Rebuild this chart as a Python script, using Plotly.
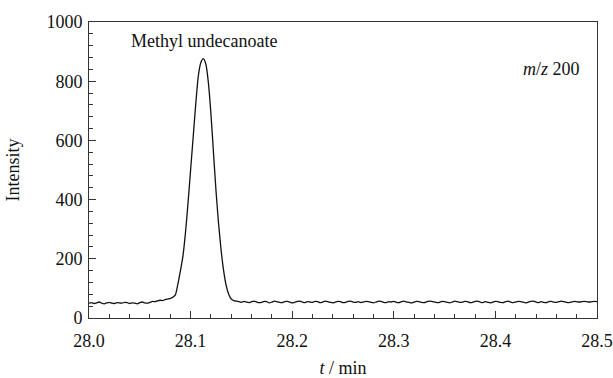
import numpy as np
import plotly.graph_objects as go

t_start = 28.0
t_step = 0.0025

pre_peak = [50, 52, 49, 51, 54, 50, 48, 51, 53, 50, 49, 52, 51, 50, 53, 52, 49,
            51, 50, 48, 52, 54, 51, 50, 53, 56, 55, 58, 60, 59, 62, 64, 66]
peak = [70, 78, 115, 160, 210, 290, 390, 500, 610, 720, 815, 862, 876, 858, 795,
        690, 560, 430, 320, 230, 160, 110, 80, 64, 59, 57]
post_peak = [55, 53, 56, 54, 52, 55, 57, 54, 52, 53, 56, 55, 51, 54, 57, 55, 53,
             52, 55, 56, 54, 51, 53, 56, 57, 54, 52, 55, 54, 53, 56, 55, 52, 54,
             57, 55, 53, 51, 54, 56, 55, 52, 53, 56, 57, 54, 53, 55, 52, 54, 56,
             55, 53, 51, 54, 57, 56, 53, 52, 55, 54, 56, 53, 52, 55, 57, 54, 53,
             51, 54, 56, 55, 53, 52, 55, 57, 56, 54, 52, 53, 56, 55, 53, 51, 54,
             57, 55, 53, 54, 56, 55, 52, 53, 56, 57, 54, 52, 55, 53, 51, 54, 56,
             55, 53, 52, 55, 57, 54, 52, 54, 56, 55, 53, 51, 54, 56, 57, 54, 52,
             55, 53, 52, 55, 56, 54, 53, 55, 57, 55, 53, 52, 54, 56, 55, 54, 55,
             56, 55, 54, 55, 56, 55]

intensity = pre_peak + peak + post_peak
time = t_start + t_step * np.arange(len(intensity))

x_ticks = [28.0, 28.1, 28.2, 28.3, 28.4, 28.5]
y_ticks = [0, 200, 400, 600, 800, 1000]

FONT = "Liberation Serif, Times New Roman, serif"
FS = 18

fig = go.Figure()
fig.add_trace(go.Scatter(x=time, y=intensity, mode="lines",
                         line=dict(color="#111111", width=1.3, shape="spline", smoothing=0.6),
                         showlegend=False, hoverinfo="skip"))

axis_common = dict(showline=True, linecolor="#333333", linewidth=1, mirror=True,
                   ticks="inside", tickcolor="#333333", showgrid=False, zeroline=False,
                   automargin=False,
                   tickfont=dict(family=FONT, size=FS, color="#111111"))

fig.update_xaxes(range=[28.0, 28.5], tickvals=x_ticks,
                 ticktext=[f"{v:.1f}" for v in x_ticks], ticklen=7, ticklabelstandoff=6,
                 minor=dict(dtick=0.02, ticks="inside", ticklen=4, tickcolor="#333333"),
                 title=dict(text="<i>t</i> / min", font=dict(family=FONT, size=FS, color="#111111"), standoff=14),
                 **axis_common)
fig.update_yaxes(range=[0, 1000], tickvals=y_ticks, ticklen=7, ticklabelstandoff=2,
                 minor=dict(dtick=40, ticks="inside", ticklen=4, tickcolor="#333333"),
                 title=dict(text="Intensity", font=dict(family=FONT, size=FS, color="#111111"), standoff=22),
                 **axis_common)

fig.add_annotation(x=28.113, y=895, text="Methyl undecanoate", showarrow=False,
                   xanchor="center", yanchor="bottom",
                   font=dict(family=FONT, size=FS, color="#111111"))
fig.add_annotation(x=0.97, y=0.84, xref="paper", yref="paper", text="<i>m</i>/<i>z</i> 200",
                   showarrow=False, xanchor="right", yanchor="middle",
                   font=dict(family=FONT, size=FS, color="#111111"))

fig.update_layout(width=613, height=378, margin=dict(l=89, r=16, t=22, b=60),
                  plot_bgcolor="white", paper_bgcolor="white")

fig.write_html("out.html")
